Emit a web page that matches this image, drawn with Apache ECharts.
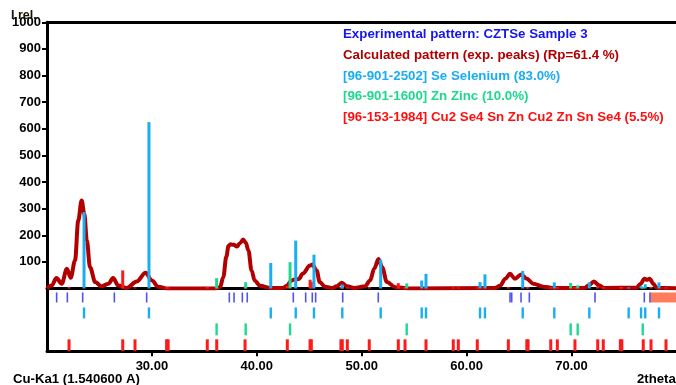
<!DOCTYPE html>
<html><head><meta charset="utf-8">
<script src="https://cdn.jsdelivr.net/npm/echarts@6/dist/echarts.min.js"></script>
<style>html,body{margin:0;padding:0;background:#fff;}#c{width:676px;height:385px;}</style>
</head><body><div id="c"></div>
<script>
// ---------- DATA ----------
const calcTheta = [20.0,20.45,20.9,21.4,21.9,22.26,22.67,22.98,23.3,23.56,23.8,24.1,24.6,25.2,25.85,26.3,26.8,27.6,28.55,29.4,30.0,30.6,31.5,36.0,36.5,36.8,37.1,37.3,37.5,37.8,38.1,38.4,38.7,38.95,39.2,39.5,39.8,40.3,41.3,42.5,42.85,43.3,43.6,44.0,44.4,45.07,45.3,45.7,46.0,46.5,47.2,47.6,48.1,48.6,49.3,50.3,50.8,51.2,51.6,51.95,52.4,53.2,54.5,62.7,63.2,63.7,64.14,64.6,65.2,65.7,66.36,67.3,68.2,71.2,71.65,72.14,72.62,73.1,76.2,76.6,76.95,77.2,77.45,77.8,78.1,80.5];
const calcIntensity = [0,11,39,18,74,40,105,255,331,280,180,80,24,8,18,39,11,2,26,59,30,7,0,0,5,42,120,160,166,164,158,170,184,172,143,68,30,10,2,2,10,30,34,36,56,86,90,68,24,7,2,8,22,8,2,8,30,75,111,80,24,5,0,2,11,37,55,37,53,38,18,7,2,2,12,26,12,2,3,18,37,33,37,18,3,0];

const seTheta = [23.53,29.72,41.33,43.71,45.45,48.15,51.81,55.72,56.13,61.28,61.75,65.35,68.36,71.70,75.45,76.63,77.03,78.34];
const seIntensity = [287,625,96,180,127,15,108,30,55,24,53,66,23,23,4,9,16,23];

const znTheta = [36.17,38.94,43.17,54.29,69.92,70.59,76.79];
const znIntensity = [39,24,99,19,21,12,6];

const cztsTheta = [22.10,27.22,28.39,31.40,31.55,35.28,36.18,38.88,42.91,45.08,45.20,48.02,48.15,48.63,50.72,53.49,54.13,56.13,58.73,59.21,61.02,63.98,65.74,65.86,68.02,68.65,70.33,72.50,73.03,74.66,74.80,76.84,77.58,79.01];
const cztsIntensity = [5,68,4,4,4,6,6,8,10,33,25,6,6,4,5,20,6,6,4,4,4,5,5,5,5,5,5,8,5,5,5,5,6,4];

const expTheta = [20.92,21.94,23.40,26.42,29.50,37.38,37.83,38.62,39.09,43.48,44.66,45.29,45.61,48.19,51.58,64.14,64.30,65.19,65.98,72.24,76.94,77.48];
const highlightRange = [77.5, 80.5];

const yTickValues = [100,200,300,400,500,600,700,800,900,1000];
const xTickValues = [30,40,50,60,70];

const legendLabels = [
  'Experimental pattern: CZTSe Sample 3',
  'Calculated pattern (exp. peaks) (Rp=61.4 %)',
  '[96-901-2502] Se Selenium (83.0%)',
  '[96-901-1600] Zn Zinc (10.0%)',
  '[96-153-1984] Cu2 Se4 Sn Zn Cu2 Zn Sn Se4 (5.5%)'
];
const yAxisName = 'I rel.';
const wavelengthLabel = 'Cu-Ka1 (1.540600 A)';
const xAxisName = '2theta';

// ---------- STYLE ----------
const FONT = '"Liberation Sans", Arial, sans-serif';
const C = {exp:'#5252f0', calc:'#b00000', se:'#19adf2', zn:'#1ed890', czts:'#ff1a1a', hl:'#ff7c5c'};
const legendColors = ['#1515ee', '#b00000', '#19adf2', '#1ed890', '#ff1010'];

const pairs = (xs, ys) => xs.map((x, i) => [x, ys[i]]);

function stickRender(width, color) {
  return function (params, api) {
    const top = api.coord([api.value(0), api.value(1)]);
    const base = api.coord([api.value(0), 0]);
    return {type:'rect', shape:{x: top[0] - width/2, y: top[1], width: width, height: base[1] - top[1]}, style:{fill: color}};
  };
}
function rowRender(y0, y1, width, color) {
  return function (params, api) {
    const p0 = api.coord([api.value(0), y0]);
    const p1 = api.coord([api.value(0), y1]);
    return {type:'rect', shape:{x: p0[0] - width/2, y: p0[1], width: width, height: p1[1] - p0[1]}, style:{fill: color}};
  };
}

const chart = echarts.init(document.getElementById('c'), null, {renderer:'canvas'});
const xMin = 20, xMax = 80.5;
const gridW = (xMax - xMin) * 10.49;

const legendGraphics = legendLabels.map((t, i) => ({
  type:'text', left: 343, top: 28 + i * 20.7,
  style:{text: t, fill: legendColors[i], font: 'bold 13.3px ' + FONT}
}));

chart.setOption({
  animation: false,
  backgroundColor: '#fff',
  grid: [
    {left: 47, top: 22.3, width: gridW, height: 266.2, outerBoundsMode: 'none', containLabel: false},
    {left: 47, top: 288.5, width: gridW, height: 62.8, outerBoundsMode: 'none', containLabel: false}
  ],
  xAxis: [
    {gridIndex:0, type:'value', min:xMin, max:xMax, position:'top',
     axisLine:{show:true, onZero:false, lineStyle:{color:'#000', width:3}},
     axisTick:{show:false}, axisLabel:{show:false}, splitLine:{show:false}},
    {gridIndex:0, type:'value', min:xMin, max:xMax, position:'bottom',
     axisLine:{show:true, onZero:false, lineStyle:{color:'#000', width:3}},
     axisTick:{show:false}, axisLabel:{show:false}, splitLine:{show:false}},
    {gridIndex:1, type:'value', min:xMin, max:xMax, position:'bottom',
     axisLine:{show:true, onZero:false, lineStyle:{color:'#000', width:3}},
     axisTick:{show:true, customValues: xTickValues, length:5, lineStyle:{color:'#000', width:2}},
     axisLabel:{show:true, customValues: xTickValues, formatter: v => v.toFixed(2), margin:9,
                color:'#000', fontWeight:'bold', fontSize:13, fontFamily: FONT},
     splitLine:{show:false}}
  ],
  yAxis: [
    {gridIndex:0, type:'value', min:0, max:1000, interval:100,
     axisLine:{show:true, onZero:false, lineStyle:{color:'#000', width:3}},
     axisTick:{show:true, customValues: yTickValues, length:5, lineStyle:{color:'#000', width:2}},
     axisLabel:{show:true, customValues: yTickValues, formatter: v => String(v), margin:6,
                color:'#000', fontWeight:'bold', fontSize:13, fontFamily: FONT},
     splitLine:{show:false}},
    {gridIndex:1, type:'value', min:0, max:63, inverse:true,
     axisLine:{show:true, onZero:false, lineStyle:{color:'#000', width:3}},
     axisTick:{show:false}, axisLabel:{show:false}, splitLine:{show:false}}
  ],
  graphic: [
    {type:'text', left: 11, top: 9, z: 10, style:{text: yAxisName, fill:'#1a1200', font:'bold 12.5px ' + FONT}},
    {type:'text', left: 13, top: 373, style:{text: wavelengthLabel, fill:'#000', font:'bold 13.2px ' + FONT}},
    {type:'text', left: 637, top: 373, style:{text: xAxisName, fill:'#000', font:'bold 13.2px ' + FONT}}
  ].concat(legendGraphics),
  series: [
    {name: legendLabels[1], type:'line', xAxisIndex:1, yAxisIndex:0, data: pairs(calcTheta, calcIntensity),
     showSymbol:false, smooth:0.35, smoothMonotone:'x', z:2,
     lineStyle:{color: C.calc, width:4}},
    {name: legendLabels[2], type:'custom', xAxisIndex:1, yAxisIndex:0, data: pairs(seTheta, seIntensity),
     encode:{x:0, y:1}, renderItem: stickRender(3, C.se), z:4},
    {name: legendLabels[3], type:'custom', xAxisIndex:1, yAxisIndex:0, data: pairs(znTheta, znIntensity),
     encode:{x:0, y:1}, renderItem: stickRender(3, C.zn), z:4},
    {name: legendLabels[4], type:'custom', xAxisIndex:1, yAxisIndex:0, data: pairs(cztsTheta, cztsIntensity),
     encode:{x:0, y:1}, renderItem: stickRender(3, C.czts), z:3},
    {name: legendLabels[0], type:'custom', xAxisIndex:2, yAxisIndex:1, data: expTheta.map(t => [t, 0]),
     encode:{x:0, y:1}, renderItem: rowRender(4, 14, 1.6, C.exp), z:3},
    {name: 'highlight', type:'custom', xAxisIndex:2, yAxisIndex:1, data: [highlightRange],
     renderItem: function (params, api) {
       const p0 = api.coord([api.value(0), 4]);
       const p1 = api.coord([api.value(1), 14]);
       return {type:'rect', shape:{x:p0[0], y:p0[1], width:p1[0]-p0[0], height:p1[1]-p0[1]}, style:{fill:C.hl}};
     }, z:2},
    {name: 'se-row', type:'custom', xAxisIndex:2, yAxisIndex:1, data: seTheta.map(t => [t, 0]),
     encode:{x:0, y:1}, renderItem: rowRender(19, 30, 2.4, C.se), z:3},
    {name: 'zn-row', type:'custom', xAxisIndex:2, yAxisIndex:1, data: znTheta.map(t => [t, 0]),
     encode:{x:0, y:1}, renderItem: rowRender(35, 47, 2.4, C.zn), z:3},
    {name: 'czts-row', type:'custom', xAxisIndex:2, yAxisIndex:1, data: cztsTheta.map(t => [t, 0]),
     encode:{x:0, y:1}, renderItem: rowRender(51, 62.8, 3, C.czts), z:3}
  ]
});
</script>
</body></html>
